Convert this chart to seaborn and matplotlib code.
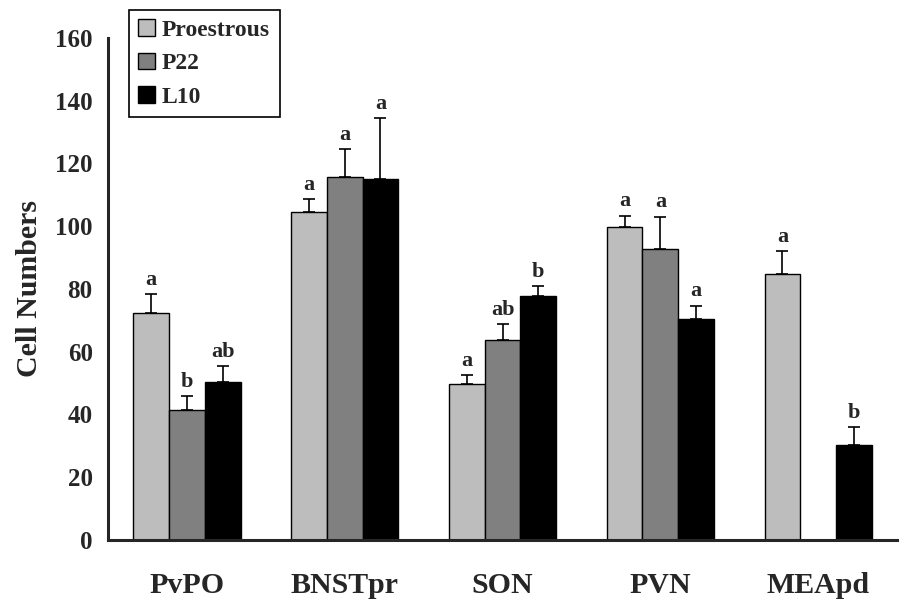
import numpy as np
import pandas as pd
import seaborn as sns
import matplotlib.pyplot as plt

regions = ['PvPO', 'BNSTpr', 'SON', 'PVN', 'MEApd']
groups = ['Proestrous', 'P22', 'L10']

# means and SEM (NaN = no bar)
proestrous = [72.5, 104.6, 49.6, 99.9, 84.9]
p22 = [41.4, 115.7, 63.6, 92.9, np.nan]
l10 = [50.4, 115.0, 77.8, 70.3, 30.2]

proestrous_err = [6.0, 4.0, 2.9, 3.5, 7.1]
p22_err = [4.6, 8.8, 5.3, 10.2, np.nan]
l10_err = [5.1, 19.5, 3.2, 4.4, 5.7]

proestrous_lbl = ['a', 'a', 'a', 'a', 'a']
p22_lbl = ['b', 'a', 'ab', 'a', '']
l10_lbl = ['ab', 'a', 'b', 'a', 'b']

rows = []
for g, vals, errs, lbls in zip(groups, [proestrous, p22, l10],
                               [proestrous_err, p22_err, l10_err],
                               [proestrous_lbl, p22_lbl, l10_lbl]):
    for r, v, e, l in zip(regions, vals, errs, lbls):
        rows.append({'region': r, 'group': g, 'value': v, 'err': e, 'lbl': l})
df = pd.DataFrame(rows)
plot_df = df.dropna(subset=['value'])

sns.set_style('white')
plt.rcParams['font.family'] = ['Liberation Serif', 'DejaVu Serif']
plt.rcParams['font.weight'] = 'bold'

fig = plt.figure(figsize=(9.05, 5.99), dpi=100)
ax = fig.add_axes([0.1193, 0.0985, 0.872, 0.8381])

palette = {'Proestrous': '#bdbdbd', 'P22': '#808080', 'L10': '#000000'}
sns.barplot(data=plot_df, x='region', y='value', hue='group', order=regions,
            hue_order=groups, palette=palette, edgecolor='black', linewidth=1.0,
            errorbar=None, width=0.68, saturation=1, ax=ax)

# error bars (upper only) and significance letters
bar_conts = list(ax.containers)
for gi, cont in enumerate(bar_conts):
    sub = df[df['group'] == groups[gi]].set_index('region')
    for bar in cont:
        cx = bar.get_x() + bar.get_width() / 2
        h = bar.get_height()
        if np.isnan(h):
            continue
        reg = regions[int(round(cx))]
        e = sub.loc[reg, 'err']
        ax.errorbar(cx, h, yerr=[[0], [e]], fmt='none', ecolor='black',
                    elinewidth=1.2, capsize=4.5, capthick=1.2)
        ax.annotate(sub.loc[reg, 'lbl'], (cx, h + e), xytext=(0, 3),
                    textcoords='offset points', ha='center', va='bottom',
                    fontsize=16, fontweight='bold')

ax.set_ylim(0, 160)
ax.set_yticks(np.arange(0, 161, 20))
ax.set_xlim(-0.5, len(regions) - 0.5)
ax.set_xticks(np.arange(len(regions) + 1) - 0.5)
ax.set_xticklabels([])
ax.set_xticks(np.arange(len(regions)), minor=True)
ax.set_xticklabels(regions, minor=True, fontsize=21.5, fontweight='bold')
ax.tick_params(axis='x', which='minor', length=0, pad=23)
ax.tick_params(axis='x', which='major', direction='out', length=7, width=2)
ax.tick_params(axis='y', direction='out', length=6, width=2, labelsize=18, pad=5)
for t in ax.get_yticklabels():
    t.set_fontweight('bold')

sns.despine(ax=ax)
ax.spines['left'].set_linewidth(2.2)
ax.spines['bottom'].set_linewidth(2.2)

ax.set_xlabel('')
ax.set_ylabel('Cell Numbers', fontsize=21.5, fontweight='bold', labelpad=9)

leg = ax.legend(loc='upper left', bbox_to_anchor=(129 / 905, 1 - 10 / 599),
                bbox_transform=fig.transFigure, frameon=True, fancybox=False,
                handlelength=0.7, handleheight=0.7, handletextpad=0.3,
                labelspacing=0.5, borderpad=0.4, borderaxespad=0,
                prop={'size': 17, 'weight': 'bold'})
leg.get_frame().set_edgecolor('black')
leg.get_frame().set_linewidth(1.2)
leg.get_frame().set_alpha(1)

fig.savefig('out.png', dpi=100)
